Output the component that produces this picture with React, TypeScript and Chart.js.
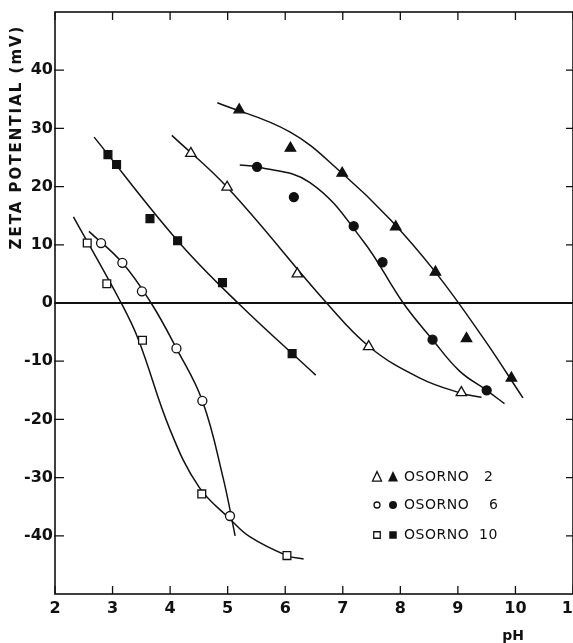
import { useEffect, useRef } from "react";
import { Chart, registerables } from "chart.js";

Chart.register(...registerables);

const xTicks = [2, 3, 4, 5, 6, 7, 8, 9, 10, 11];
const yTicks = [-40, -30, -20, -10, 0, 10, 20, 30, 40];

// measured points, [pH, zeta potential mV]
const osorno2Open = [[4.36, 25.7], [4.99, 19.9], [6.21, 5.0], [7.45, -7.5], [9.06, -15.4]];
const osorno2Filled = [[5.2, 33.2], [6.09, 26.6], [6.99, 22.3], [7.92, 13.1], [8.61, 5.3], [9.15, -6.1], [9.93, -12.9]];
const osorno6Open = [[2.8, 10.3], [3.17, 6.9], [3.51, 2.0], [4.11, -7.8], [4.56, -16.8], [5.04, -36.6]];
const osorno6Filled = [[5.51, 23.4], [6.15, 18.2], [7.19, 13.2], [7.69, 7.0], [8.56, -6.3], [9.5, -15.0]];
const osorno10Open = [[2.56, 10.3], [2.9, 3.3], [3.52, -6.4], [4.55, -32.8], [6.03, -43.4]];
const osorno10Filled = [[2.92, 25.5], [3.07, 23.8], [3.65, 14.5], [4.13, 10.7], [4.91, 3.5], [6.12, -8.7]];

// hand-drawn curves through the points
const curve2Open = [[4.03, 28.8], [5.0, 19.8], [6.72, 0], [7.47, -7.6], [8.34, -12.9], [9.06, -15.5], [9.41, -16.2]];
const curve2Filled = [[4.82, 34.4], [6.08, 29.4], [6.99, 22.3], [7.82, 14.4], [8.61, 5.3], [9.44, -6.0], [10.13, -16.3]];
const curve6Open = [[2.59, 12.3], [3.17, 6.9], [3.67, 0], [4.11, -7.8], [4.56, -16.8], [4.92, -30.0], [5.13, -40.0]];
const curve6Filled = [[5.21, 23.7], [5.51, 23.4], [6.43, 20.7], [7.35, 10.7], [8.05, 0], [8.56, -6.3], [9.03, -11.7], [9.5, -15.0], [9.81, -17.3]];
const curve10Open = [[2.32, 14.8], [3.15, 0], [3.45, -6.3], [4.0, -21.8], [4.5, -31.6], [5.04, -37.1], [5.39, -40.2], [6.03, -43.4], [6.32, -44.0]];
const curve10Filled = [[2.68, 28.5], [4.13, 10.7], [5.18, 0], [6.53, -12.4]];

const legendNames = ["OSORNO", "OSORNO", "OSORNO"];
const legendNumbers = ["2", "6", "10"];
const legendShapes = ["triangle", "circle", "rect"];

const ink = "#111";
const font = "DejaVu Sans";

const toXY = (pts: number[][]) => pts.map(([x, y]) => ({ x, y }));

function markers(pts: number[][], shape: string, filled: boolean, radius: number) {
  return {
    data: toXY(pts),
    showLine: false,
    pointStyle: shape,
    pointRadius: radius,
    pointBackgroundColor: filled ? ink : "#fff",
    pointBorderColor: ink,
    pointBorderWidth: 1.3,
  };
}

function curve(pts: number[][]) {
  return {
    data: toXY(pts),
    showLine: true,
    borderColor: ink,
    borderWidth: 1.5,
    pointRadius: 0,
    tension: 0.4,
    fill: false,
  };
}

function shape(ctx: CanvasRenderingContext2D, kind: string, x: number, y: number, s: number, filled: boolean) {
  ctx.beginPath();
  if (kind === "triangle") {
    ctx.moveTo(x, y - s * 0.6);
    ctx.lineTo(x + s * 0.5, y + s * 0.45);
    ctx.lineTo(x - s * 0.5, y + s * 0.45);
    ctx.closePath();
  } else if (kind === "circle") {
    ctx.arc(x, y, s / 2, 0, Math.PI * 2);
  } else {
    ctx.rect(x - s / 2, y - s / 2, s, s);
  }
  if (filled) {
    ctx.fillStyle = ink;
    ctx.fill();
  } else {
    ctx.fillStyle = "#fff";
    ctx.fill();
    ctx.lineWidth = 1.3;
    ctx.strokeStyle = ink;
    ctx.stroke();
  }
}

const framePlugin = {
  id: "frame",
  afterDraw(chart: any) {
    const { ctx, chartArea: a, scales } = chart;
    const xs = scales.x;
    const ys = scales.y;
    ctx.save();
    ctx.strokeStyle = ink;
    ctx.lineWidth = 1.6;
    ctx.strokeRect(a.left, a.top, a.right - a.left, a.bottom - a.top);

    ctx.lineWidth = 1.3;
    ctx.beginPath();
    for (const v of xTicks) {
      const px = xs.getPixelForValue(v);
      ctx.moveTo(px, a.bottom);
      ctx.lineTo(px, a.bottom - 8);
      ctx.moveTo(px, a.top);
      ctx.lineTo(px, a.top + 8);
    }
    for (const v of yTicks) {
      const py = ys.getPixelForValue(v);
      ctx.moveTo(a.left - 1, py);
      ctx.lineTo(a.left + 9, py);
      ctx.moveTo(a.right, py);
      ctx.lineTo(a.right - 7, py);
    }
    ctx.stroke();

    ctx.fillStyle = ink;

    // y axis title
    ctx.save();
    ctx.translate(17, 137);
    ctx.rotate(-Math.PI / 2);
    ctx.font = `bold 15px "${font}"`;
    ctx.letterSpacing = "2px";
    ctx.textAlign = "center";
    ctx.textBaseline = "middle";
    ctx.fillText("ZETA POTENTIAL (mV)", 0, 0);
    ctx.restore();

    // x axis title
    ctx.font = `bold 14px "${font}"`;
    ctx.textAlign = "center";
    ctx.textBaseline = "alphabetic";
    ctx.fillText("pH", 513, 640);

    // legend
    const rowY = [477, 505, 535];
    const numX = [484, 489, 479];
    legendNames.forEach((name, i) => {
      const y = rowY[i];
      const k = legendShapes[i];
      const openSize = k === "triangle" ? 9 : k === "circle" ? 6 : 6.5;
      const fillSize = k === "triangle" ? 10 : k === "circle" ? 8 : 7.5;
      shape(ctx, k, 377, y, openSize, false);
      shape(ctx, k, 393, y, fillSize, true);
      ctx.fillStyle = ink;
      ctx.font = `14px "${font}"`;
      ctx.letterSpacing = "0.5px";
      ctx.textAlign = "left";
      ctx.textBaseline = "middle";
      ctx.fillText(name, 404, y);
      ctx.fillText(legendNumbers[i], numX[i], y);
    });
    ctx.restore();
  },
};

export default function App() {
  const canvasRef = useRef<HTMLCanvasElement>(null);
  const chartRef = useRef<Chart | null>(null);

  useEffect(() => {
    if (!canvasRef.current) return;
    const ctx = canvasRef.current.getContext("2d");
    if (!ctx) return;
    if (chartRef.current) chartRef.current.destroy();

    const tickFont = { family: font, size: 16, weight: "bold" as const };

    chartRef.current = new Chart(ctx, {
      type: "scatter",
      data: {
        datasets: [
          markers(osorno2Open, "triangle", false, 6),
          markers(osorno2Filled, "triangle", true, 6),
          markers(osorno6Open, "circle", false, 4.5),
          markers(osorno6Filled, "circle", true, 4.5),
          markers(osorno10Open, "rect", false, 5.5),
          markers(osorno10Filled, "rect", true, 5.5),
          curve(curve2Open),
          curve(curve2Filled),
          curve(curve6Open),
          curve(curve6Filled),
          curve(curve10Open),
          curve(curve10Filled),
        ] as any,
      },
      options: {
        animation: false,
        responsive: true,
        maintainAspectRatio: false,
        layout: { autoPadding: false, padding: { top: 12, right: 0, left: 0, bottom: 0 } },
        plugins: {
          legend: { display: false },
          tooltip: { enabled: false },
        },
        scales: {
          x: {
            type: "linear",
            min: 2,
            max: 11,
            afterFit: (s: any) => {
              s.height = 49;
              s.paddingLeft = 0;
              s.paddingRight = 0;
            },
            ticks: {
              stepSize: 1,
              autoSkip: false,
              maxRotation: 0,
              padding: 5,
              color: ink,
              font: tickFont,
            },
            grid: { display: false, drawTicks: false },
            border: { display: false },
          },
          y: {
            min: -50,
            max: 50,
            afterFit: (s: any) => {
              s.width = 55;
              s.paddingTop = 0;
              s.paddingBottom = 0;
            },
            ticks: {
              stepSize: 10,
              padding: 2,
              color: ink,
              font: tickFont,
              callback: (v: any) => (Math.abs(v) >= 50 ? "" : String(v)),
            },
            grid: {
              drawTicks: false,
              lineWidth: 2,
              color: (c: any) => (c.tick && c.tick.value === 0 ? ink : "rgba(0,0,0,0)"),
            },
            border: { display: false },
          },
        },
      },
      plugins: [framePlugin],
    });

    return () => {
      if (chartRef.current) {
        chartRef.current.destroy();
        chartRef.current = null;
      }
    };
  }, []);

  return (
    <div style={{ position: "fixed", left: 0, top: 0, width: 573, height: 643, background: "#fff" }}>
      <canvas ref={canvasRef}></canvas>
    </div>
  );
}
